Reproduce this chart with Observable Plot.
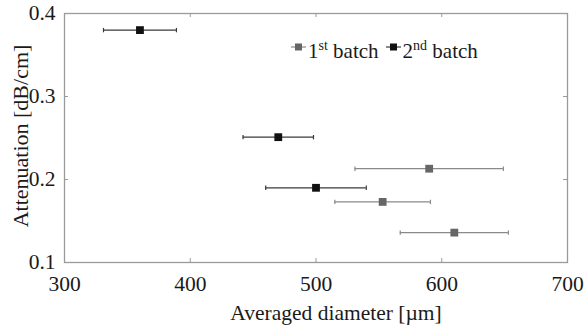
<!DOCTYPE html>
<html>
<head>
<meta charset="utf-8">
<script src="https://cdn.jsdelivr.net/npm/d3@7"></script>
<script src="https://cdn.jsdelivr.net/npm/@observablehq/plot@0.6"></script>
<style>
  html, body { margin: 0; padding: 0; background: #fff; }
  #wrap { position: relative; width: 584px; height: 329px; font-family: "Liberation Serif", "Tinos", "Times New Roman", "DejaVu Serif", serif; }
  #legend { position: absolute; left: 291px; top: 36px; display: flex; align-items: baseline; font-size: 21px; line-height: 24px; color: #1a1a1a; white-space: nowrap; }
  #legend sup { font-size: 14px; vertical-align: 8px; line-height: 0; }
  #legend svg { margin-right: 2px; }
  .item { display: flex; align-items: baseline; margin-right: 7px; }
  #wrap svg text { font-family: "Liberation Serif", "Tinos", "Times New Roman", "DejaVu Serif", serif; }
</style>
</head>
<body>
<div id="wrap"></div>
<script>
// ---- data ----
const diam1 = [590, 553, 610];          // 1st batch averaged diameter (µm)
const att1  = [0.213, 0.173, 0.136];    // 1st batch attenuation (dB/cm)
const err1  = [59, 38, 43];             // 1st batch diameter error (µm)

const diam2 = [360, 470, 500];          // 2nd batch
const att2  = [0.380, 0.251, 0.190];
const err2  = [29, 28, 40];

const seriesNames = ["1st", "2nd"];
const xTicks = [300, 400, 500, 600, 700];
const yTicks = [0.1, 0.2, 0.3, 0.4];
const xLabel = "Averaged diameter [µm]";
const yLabel = "Attenuation [dB/cm]";

const rows = [
  ...diam1.map((d, i) => ({batch: seriesNames[0], d, a: att1[i], e: err1[i]})),
  ...diam2.map((d, i) => ({batch: seriesNames[1], d, a: att2[i], e: err2[i]}))
];
const barColor = {"1st": "#8a8a8a", "2nd": "#3a3a3a"};
const dotColor = {"1st": "#666666", "2nd": "#111111"};

const capSymbol = {
  draw(ctx, size) { const h = Math.sqrt(size / Math.PI); ctx.moveTo(0, -h); ctx.lineTo(0, h); }
};

const W = 584, H = 329, mt = 13, mr = 17, mb = 67, ml = 64;
const innerH = H - mt - mb, tickLen = 4;
const font = "'Liberation Serif', 'Tinos', 'Times New Roman', 'DejaVu Serif', serif";

const chart = Plot.plot({
  width: W, height: H,
  marginTop: mt, marginRight: mr, marginBottom: mb, marginLeft: ml,
  style: {fontFamily: font, fontSize: "21.5px", color: "#1a1a1a", background: "#fff"},
  x: {domain: [300, 700], ticks: xTicks},
  y: {domain: [0.1, 0.4], ticks: yTicks},
  marks: [
    Plot.frame({stroke: "#9a9a9a", strokeWidth: 1.3}),
    Plot.axisX({ticks: xTicks, tickSize: 0, tickPadding: 13, label: null, fontSize: 21.5, tickFormat: d3.format("d")}),
    Plot.axisY({ticks: yTicks, tickSize: 0, tickPadding: 9, label: null, fontSize: 21.5, tickFormat: d3.format(".1f")}),
    // inward ticks on all four sides
    Plot.tickX(xTicks, {x: d => d, insetTop: innerH - tickLen, stroke: "#9a9a9a"}),
    Plot.tickX(xTicks, {x: d => d, insetBottom: innerH - tickLen, stroke: "#9a9a9a"}),
    Plot.tickY(yTicks, {y: d => d, insetRight: W - ml - mr - tickLen, stroke: "#9a9a9a"}),
    Plot.tickY(yTicks, {y: d => d, insetLeft: W - ml - mr - tickLen, stroke: "#9a9a9a"}),
    // error bars
    Plot.ruleY(rows, {y: "a", x1: r => r.d - r.e, x2: r => r.d + r.e, stroke: r => barColor[r.batch], strokeWidth: 1.2}),
    Plot.dot(rows, {x: r => r.d - r.e, y: "a", symbol: capSymbol, r: 2.2, fill: "none", stroke: r => barColor[r.batch], strokeWidth: 1.2}),
    Plot.dot(rows, {x: r => r.d + r.e, y: "a", symbol: capSymbol, r: 2.2, fill: "none", stroke: r => barColor[r.batch], strokeWidth: 1.2}),
    // markers
    Plot.dot(rows, {x: "d", y: "a", symbol: "square", r: 4.4, fill: r => dotColor[r.batch], stroke: "none"}),
    // axis titles
    Plot.text([xLabel], {text: d => d, frameAnchor: "bottom", dx: 20, dy: 57, fontSize: 21.5, fill: "#1a1a1a", lineAnchor: "bottom"}),
    Plot.text([yLabel], {text: d => d, frameAnchor: "left", textAnchor: "middle", rotate: -90, dx: -44, dy: -2, fontSize: 22, fill: "#1a1a1a"})
  ]
});
const wrap = document.getElementById("wrap");
wrap.appendChild(chart);

// legend inside the plot area
const legend = document.createElement("div");
legend.id = "legend";
function symbolSvg(color, barCol) {
  return `<svg width="15" height="22" viewBox="0 0 15 22"><line x1="0" y1="11" x2="15" y2="11" stroke="${barCol}" stroke-width="1.2"/><rect x="4" y="7.5" width="7" height="7" fill="${color}"/></svg>`;
}
legend.innerHTML =
  `<span class="item">${symbolSvg(dotColor["1st"], barColor["1st"])}<span>1<sup>st</sup> batch</span></span>` +
  `<span class="item">${symbolSvg(dotColor["2nd"], barColor["2nd"])}<span>2<sup>nd</sup> batch</span></span>`;
wrap.appendChild(legend);
</script>
</body>
</html>
